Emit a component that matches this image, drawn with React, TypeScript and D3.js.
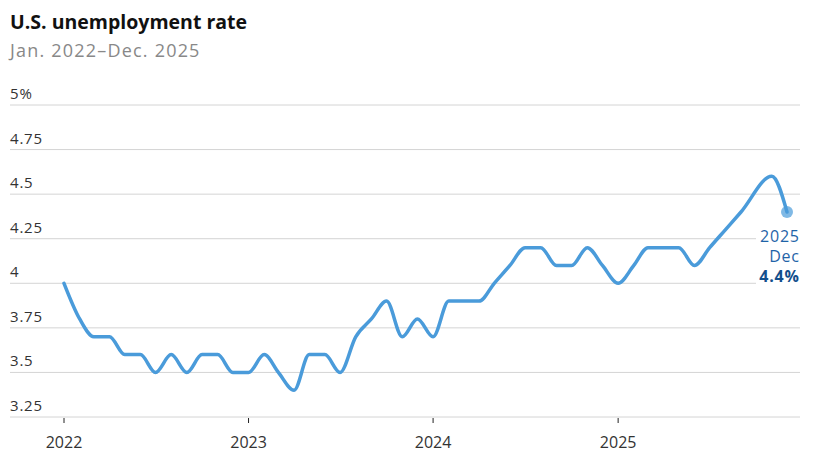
import React from "react";
import * as d3 from "d3";

const months: string[] = [
  "2022-01","2022-02","2022-03","2022-04","2022-05","2022-06","2022-07","2022-08","2022-09","2022-10","2022-11","2022-12",
  "2023-01","2023-02","2023-03","2023-04","2023-05","2023-06","2023-07","2023-08","2023-09","2023-10","2023-11","2023-12",
  "2024-01","2024-02","2024-03","2024-04","2024-05","2024-06","2024-07","2024-08","2024-09","2024-10","2024-11","2024-12",
  "2025-01","2025-02","2025-03","2025-04","2025-05","2025-06","2025-07","2025-08","2025-09","2025-11","2025-12",
];
const rates: number[] = [
  4.0, 3.8, 3.7, 3.7, 3.6, 3.6, 3.5, 3.6, 3.5, 3.6, 3.6, 3.5,
  3.5, 3.6, 3.5, 3.4, 3.6, 3.6, 3.5, 3.7, 3.8, 3.9, 3.7, 3.8,
  3.7, 3.9, 3.9, 3.9, 4.0, 4.1, 4.2, 4.2, 4.1, 4.1, 4.2, 4.1,
  4.0, 4.1, 4.2, 4.2, 4.2, 4.1, 4.2, 4.3, 4.4, 4.6, 4.4,
];
const yTicks: number[] = [3.25, 3.5, 3.75, 4, 4.25, 4.5, 4.75, 5];
const yTickLabels: string[] = ["3.25", "3.5", "3.75", "4", "4.25", "4.5", "4.75", "5%"];
const xTickYears: number[] = [2022, 2023, 2024, 2025];

const W = 818;
const H = 462;
const parse = d3.timeParse("%Y-%m");
const FONT = "'Open Sans', Lato, sans-serif";

export default function App() {
  const data = months.map((m, i) => ({ date: parse(m) as Date, value: rates[i] }));
  const x = d3
    .scaleTime()
    .domain([parse("2022-01") as Date, parse("2025-12") as Date])
    .range([64, 787]);
  const y = d3.scaleLinear().domain([3.25, 5]).range([417, 105]);
  const line = d3
    .line<{ date: Date; value: number }>()
    .x((d) => x(d.date))
    .y((d) => y(d.value))
    .curve(d3.curveMonotoneX);
  const last = data[data.length - 1];
  const lx = x(last.date);
  const ly = y(last.value);

  return (
    <svg
      width={W}
      height={H}
      style={{ position: "absolute", left: 0, top: 0, background: "#fff" }}
      fontFamily={FONT}
    >
      <text x={10} y={29} fontSize={19.5} fontWeight={700} fill="#111">
        U.S. unemployment rate
      </text>
      <text x={10} y={57} fontSize={18} fill="#888" letterSpacing={1.2}>
        Jan. 2022–Dec. 2025
      </text>

      {yTicks.map((t, i) => (
        <g key={t}>
          <line x1={10} x2={800} y1={y(t)} y2={y(t)} stroke="#d4d4d4" strokeWidth={1} />
          <text x={10} y={y(t) - 6} fontSize={15} fill="#333" letterSpacing={0.8}>
            {yTickLabels[i]}
          </text>
        </g>
      ))}

      {xTickYears.map((yr) => {
        const d = new Date(yr, 0, 1);
        return (
          <g key={yr}>
            <line x1={x(d)} x2={x(d)} y1={418} y2={423} stroke="#222" strokeWidth={1} />
            <text x={x(d)} y={448} fontSize={16} fill="#333" textAnchor="middle">
              {yr}
            </text>
          </g>
        );
      })}

      <path d={line(data) || ""} fill="none" stroke="#4a9bda" strokeWidth={3.5} strokeLinejoin="round" strokeLinecap="round" />
      <circle cx={lx} cy={ly} r={6} fill="#4a9bda" opacity={0.7} />

      <rect x={756} y={224} width={46} height={62} fill="#fff" />
      <g letterSpacing={0.8}>
        <text x={799.8} y={242} fontSize={16} fill="#1f64a8" textAnchor="end">2025</text>
        <text x={799.8} y={262} fontSize={16} fill="#1f64a8" textAnchor="end">Dec</text>
        <text x={799.8} y={282} fontSize={16} fontWeight={700} fill="#134f8c" textAnchor="end">
          {`${last.value.toFixed(1)}%`}
        </text>
      </g>
    </svg>
  );
}
